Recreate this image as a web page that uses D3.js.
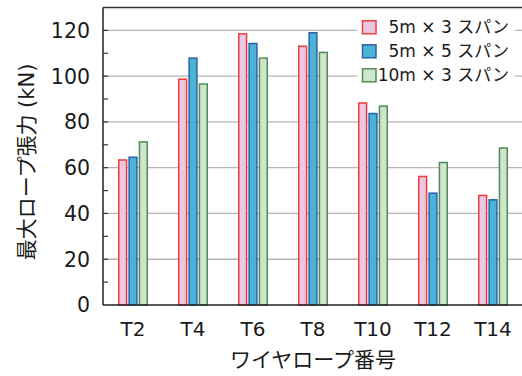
<!DOCTYPE html>
<html><head><meta charset="utf-8">
<script src="https://cdn.jsdelivr.net/npm/d3@7/dist/d3.min.js"></script>
<style>
html,body{margin:0;padding:0;background:#fff;}
svg{display:block;}
text{font-family:"DejaVu Sans","Noto Sans CJK JP",sans-serif;fill:#1a1a1a;}
</style></head>
<body>
<script>
const categories = ["T2","T4","T6","T8","T10","T12","T14"];
const seriesNames = ["5m × 3 スパン","5m × 5 スパン","10m × 3 スパン"];
const s5x3 = [63.7, 99.0, 118.8, 113.4, 88.6, 56.5, 48.2];
const s5x5 = [64.9, 108.2, 114.6, 119.3, 84.0, 49.2, 46.3];
const s10x3 = [71.6, 96.9, 108.2, 110.7, 87.2, 62.6, 68.9];
const yTicks = [0, 20, 40, 60, 80, 100, 120];
const yMinorTicks = [10, 30, 50, 70, 90, 110, 130];
const yTitle = "最大ロープ張力 (kN)";
const xTitle = "ワイヤロープ番号";

const seriesValues = [s5x3, s5x5, s10x3];
const fills = ["#e9c9e1", "#4bb3d3", "#cfe5cb"];
const strokes = ["#f03c3c", "#2f5fae", "#4e8c57"];

const W = 522, H = 376;
const mLeft = 103, mRight = 523, mTop = 7.5, mBottom = 305;

const svg = d3.select("body").append("svg").attr("width", W).attr("height", H);

const x = d3.scaleBand().domain(categories).range([mLeft, mRight]).paddingInner(0.5).paddingOuter(0.25);
const xs = d3.scaleBand().domain(d3.range(3)).range([0, x.bandwidth()]).paddingInner(0.1).paddingOuter(0);
const y = d3.scaleLinear().domain([0, 130]).range([mBottom, mTop]);

// gridlines
svg.append("g").selectAll("line").data(yTicks.filter(d => d > 0)).join("line")
  .attr("x1", mLeft).attr("x2", mRight)
  .attr("y1", d => y(d)).attr("y2", d => y(d))
  .attr("stroke", "#b4b4b4").attr("stroke-width", 1.3);

// bars
const rows = [];
categories.forEach((c, i) => seriesValues.forEach((vals, s) => rows.push({c, s, v: vals[i]})));
svg.append("g").selectAll("rect").data(rows).join("rect")
  .attr("x", d => x(d.c) + xs(d.s) + 0.75)
  .attr("width", xs.bandwidth() - 1.5)
  .attr("y", d => y(d.v) + 0.75)
  .attr("height", d => y(0) - y(d.v) - 0.75)
  .attr("fill", d => fills[d.s])
  .attr("stroke", d => strokes[d.s])
  .attr("stroke-width", 1.5);

// legend
const lg = svg.append("g");
lg.append("rect").attr("x", 357).attr("y", 14).attr("width", 158).attr("height", 74).attr("fill", "#fff");
seriesNames.forEach((n, i) => {
  const cy = 27.3 + i * 24;
  lg.append("rect").attr("x", 362.5).attr("y", cy - 6.5).attr("width", 13.5).attr("height", 13)
    .attr("fill", fills[i]).attr("stroke", strokes[i]).attr("stroke-width", 1.5);
  lg.append("text").attr("x", 509).attr("y", cy).attr("dy", "0.36em")
    .attr("text-anchor", "end").attr("font-size", 17).text(n);
});

// axes frame
svg.append("line").attr("x1", mLeft).attr("x2", mRight).attr("y1", mTop).attr("y2", mTop)
  .attr("stroke", "#333").attr("stroke-width", 1.5);
svg.append("line").attr("x1", mLeft).attr("x2", mLeft).attr("y1", mTop).attr("y2", mBottom)
  .attr("stroke", "#222").attr("stroke-width", 1.5);
svg.append("line").attr("x1", mLeft).attr("x2", mRight).attr("y1", mBottom).attr("y2", mBottom)
  .attr("stroke", "#222").attr("stroke-width", 1.5);

// y ticks (inward)
svg.append("g").selectAll("line").data(yTicks.concat(yMinorTicks).filter(d => d > 0 && d < 130)).join("line")
  .attr("x1", mLeft).attr("x2", mLeft + 5)
  .attr("y1", d => y(d)).attr("y2", d => y(d))
  .attr("stroke", "#333").attr("stroke-width", 1.2);

// y tick labels
svg.append("g").selectAll("text").data(yTicks).join("text")
  .attr("x", 90).attr("y", d => y(d)).attr("dy", "0.36em")
  .attr("text-anchor", "end").attr("font-size", 20.5).text(d => d);

// x tick labels
svg.append("g").selectAll("text").data(categories).join("text")
  .attr("x", d => x(d) + x.bandwidth() / 2).attr("y", 336)
  .attr("text-anchor", "middle").attr("font-size", 20).text(d => d);

// titles
svg.append("text").attr("x", (mLeft + mRight) / 2).attr("y", 367)
  .attr("text-anchor", "middle").attr("font-size", 21).text(xTitle);
svg.append("text").attr("transform", "translate(34,162) rotate(-90)")
  .attr("text-anchor", "middle").attr("font-size", 21).text(yTitle);
</script>
</body></html>
